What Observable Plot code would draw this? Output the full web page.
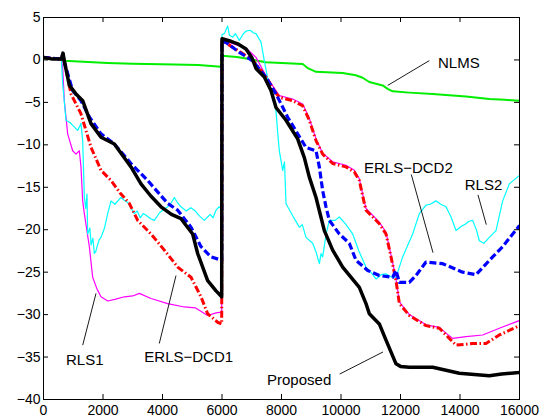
<!DOCTYPE html>
<html><head><meta charset="utf-8">
<script src="https://cdn.jsdelivr.net/npm/d3@7"></script>
<script src="https://cdn.jsdelivr.net/npm/@observablehq/plot@0.6"></script>
<style>
html,body{margin:0;padding:0;background:#fff;}
</style></head><body><div id="chart"></div>
<script>
// ---- data (x: samples, y: dB) ----
const nlmsX = [0, 600, 700, 1500, 2157, 3000, 4398, 5200, 5966, 6000, 6500, 6918, 7200, 7479, 8000, 8711, 8900, 9160, 10056, 10500, 10728, 10952, 11400, 11569, 11737, 12300, 13082, 14202, 14986, 15500, 16000];
const nlmsY = [0.2, 0.1, -0.1, -0.25, -0.35, -0.45, -0.55, -0.6, -0.8, 0.5, 0.35, 0.12, -0.1, -0.28, -0.35, -0.47, -1.0, -1.4, -1.55, -1.8, -2.1, -2.6, -3.0, -3.4, -3.7, -3.85, -4.0, -4.3, -4.6, -4.7, -4.8];

const rls1X = [0, 600, 645, 700, 812, 980, 1092, 1204, 1260, 1317, 1373, 1541, 1653, 1800, 1933, 2157, 2400, 2717, 3000, 3221, 3614, 4174, 4734, 5100, 5518, 5800, 5990, 6000, 6300, 6800, 7143, 7500, 7927, 8375, 8711, 8935, 9160, 9384, 9720, 10168, 10448, 10616, 10784, 10840, 11288, 11513, 11681, 11849, 11961, 12296, 12857, 13305, 13641, 13753, 14202, 14762, 15322, 16000];
const rls1Y = [0.3, 0.1, -0.9, -4.8, -8.7, -10.7, -11.1, -10.7, -12.6, -16.6, -18.1, -22.0, -25.6, -27.0, -27.9, -28.4, -28.2, -27.9, -27.8, -27.5, -28.1, -28.7, -29.1, -29.2, -30.1, -29.8, -29.7, 2.3, 2.0, 1.4, 0.3, -2.0, -4.2, -4.6, -5.2, -6.9, -9.3, -11.0, -12.0, -12.4, -13.0, -14.0, -16.7, -17.5, -19.1, -20.3, -23.0, -25.8, -28.5, -30.0, -31.2, -31.5, -32.5, -32.8, -32.6, -32.4, -31.6, -30.7];

const rls2X = [0, 300, 600, 645, 756, 900, 980, 1148, 1260, 1317, 1373, 1420, 1462, 1485, 1560, 1600, 1660, 1709, 1765, 1800, 1870, 1933, 2050, 2157, 2269, 2400, 2605, 2700, 2829, 2950, 3053, 3150, 3250, 3350, 3450, 3600, 3726, 3900, 4050, 4174, 4300, 4398, 4500, 4622, 4800, 4950, 5070, 5250, 5406, 5600, 5700, 5798, 5900, 5990, 6000, 6079, 6191, 6250, 6359, 6450, 6583, 6700, 6807, 6950, 7050, 7143, 7311, 7423, 7591, 7700, 7815, 7870, 7927, 8039, 8100, 8151, 8208, 8400, 8599, 8700, 8823, 9048, 9150, 9272, 9330, 9384, 9500, 9608, 9800, 9944, 10150, 10392, 10600, 10840, 11000, 11176, 11350, 11513, 11700, 11849, 12073, 12409, 12633, 12857, 13000, 13193, 13350, 13529, 13700, 13866, 14050, 14202, 14300, 14426, 14550, 14650, 14800, 14986, 15210, 15434, 15658, 16000];
const rls2Y = [0.3, 0.2, 0.2, -2.8, -7.1, -7.4, -7.7, -8.3, -7.5, -9.5, -16.2, -17.5, -15.8, -20.5, -19.8, -21.8, -21.0, -22.8, -22.5, -22.0, -21.2, -20.9, -19.8, -18.1, -16.6, -17.0, -16.2, -16.5, -16.8, -17.5, -18.1, -17.8, -18.6, -18.1, -18.3, -18.7, -18.9, -18.0, -17.6, -17.3, -16.8, -16.2, -16.8, -17.3, -17.8, -17.4, -17.7, -18.4, -18.9, -18.2, -18.6, -17.7, -17.3, -17.5, 3.0, 3.1, 4.0, 2.9, 2.7, 3.1, 2.3, 3.0, 3.4, 3.5, 3.2, 3.1, 2.1, -0.1, -3.2, -4.5, -6.0, -8.5, -10.7, -13.0, -12.0, -16.9, -17.3, -18.5, -19.7, -19.4, -20.9, -21.6, -22.5, -24.0, -22.8, -23.2, -20.5, -18.9, -18.9, -18.5, -19.3, -20.5, -22.5, -24.4, -25.0, -25.8, -25.3, -25.2, -25.6, -25.6, -23.2, -20.5, -18.1, -17.1, -17.0, -16.6, -17.0, -17.3, -18.5, -20.1, -19.6, -19.3, -19.0, -18.9, -20.0, -21.3, -21.6, -20.9, -20.1, -16.6, -14.6, -13.6];

const dcd1X = [0, 600, 650, 720, 924, 1260, 1597, 1933, 2269, 2605, 2885, 3166, 3614, 4061, 4510, 4958, 5294, 5518, 5854, 5990, 6000, 6134, 6583, 7031, 7479, 7815, 7927, 8375, 8711, 8935, 9160, 9384, 9720, 10168, 10448, 10616, 10784, 10840, 11288, 11513, 11681, 11849, 11961, 12296, 12857, 13305, 13641, 13866, 14426, 14874, 15322, 16000];
const dcd1Y = [0.3, 0.1, 0.7, -0.5, -4.0, -6.35, -10.3, -13.0, -14.2, -15.8, -16.9, -18.9, -20.5, -22.4, -24.4, -25.6, -27.9, -29.9, -30.9, -31.1, 2.2, 2.0, 1.0, 0.0, -2.0, -3.9, -4.4, -4.8, -5.4, -7.1, -9.5, -11.1, -12.2, -12.6, -13.2, -14.2, -16.9, -17.7, -19.3, -20.5, -23.2, -26.0, -28.7, -30.1, -31.3, -31.6, -32.8, -33.6, -33.4, -33.4, -32.4, -31.3];

const dcd2X = [0, 600, 650, 720, 980, 1260, 1541, 1933, 2381, 2941, 3502, 4174, 4510, 4958, 5294, 5630, 5990, 6000, 6134, 6583, 7031, 7479, 7815, 8208, 8543, 8823, 9160, 9272, 9384, 9496, 9608, 9944, 10280, 10504, 10897, 11288, 11737, 11849, 11961, 12296, 12521, 12857, 13418, 14090, 14538, 15098, 15434, 16000];
const dcd2Y = [0.3, 0.1, 0.7, -0.5, -3.6, -4.8, -6.7, -8.7, -9.9, -12.2, -14.2, -16.9, -17.7, -19.7, -22.0, -23.2, -23.6, 2.2, 2.07, 0.9, -0.1, -2.05, -4.0, -6.75, -8.7, -10.3, -10.7, -12.6, -15.4, -17.3, -18.9, -20.5, -21.6, -23.6, -24.8, -25.4, -25.6, -24.8, -26.2, -26.2, -25.4, -23.8, -24.0, -25.0, -25.3, -23.2, -22.0, -19.5];

const propX = [0, 300, 600, 655, 720, 870, 1092, 1317, 1597, 1933, 2381, 2941, 3277, 3600, 3950, 4300, 4622, 5014, 5182, 5518, 5800, 5990, 6000, 6300, 6527, 6807, 7000, 7143, 7423, 7647, 7815, 8151, 8543, 8767, 8935, 9160, 9440, 9720, 10056, 10616, 10840, 10952, 11288, 11513, 11849, 12000, 12296, 13082, 13977, 14985, 15400, 16000];
const propY = [0.3, 0.1, 0.1, 0.8, -0.5, -3.0, -4.0, -4.8, -7.5, -9.1, -9.9, -12.6, -14.6, -16.0, -17.3, -18.2, -18.7, -20.5, -22.8, -26.0, -27.2, -27.9, 2.5, 2.2, 1.9, 1.3, 0.3, -1.0, -2.0, -3.6, -5.6, -7.1, -9.3, -11.5, -13.8, -16.2, -20.1, -22.4, -24.4, -26.8, -28.7, -29.9, -31.1, -33.0, -35.8, -36.1, -36.2, -36.2, -36.9, -37.2, -37.0, -36.8];

const xTicks = [0, 2000, 4000, 6000, 8000, 10000, 12000, 14000, 16000];
const xTickLabels = ["0", "2000", "4000", "6000", "8000", "10000", "12000", "14000", "16000"];
const yTicks = [5, 0, -5, -10, -15, -20, -25, -30, -35, -40];
const yTickLabels = ["5", "0", "\u22125", "\u221210", "\u221215", "\u221220", "\u221225", "\u221230", "\u221235", "\u221240"];

const labelText = ["NLMS", "ERLS\u2212DCD2", "RLS2", "RLS1", "ERLS\u2212DCD1", "Proposed"];
const labelX = [13261, 10773, 14158, 756, 3388, 7513];
const labelY = [-0.44, -12.7, -14.8, -35.4, -35.0, -37.7];
const leaderX1 = [11570, 12363, 14605, 1318, 3892, 9956];
const leaderY1 = [-3.0, -13.5, -15.9, -33.6, -33.4, -37.0];
const leaderX2 = [12968, 13092, 14884, 1765, 4454, 11412];
const leaderY2 = [-0.08, -22.7, -19.4, -27.5, -25.4, -34.4];

// ---- layout ----
const W = 544, H = 419, mL = 43, mR = 25, mT = 17, mB = 20;
const plotW = W - mL - mR, plotH = H - mT - mB;
const tick = 5;

const series = [
  {name: "NLMS", x: nlmsX, y: nlmsY, stroke: "#00ee00", width: 2, dash: null},
  {name: "RLS1", x: rls1X, y: rls1Y, stroke: "#ff00ff", width: 1.2, dash: null},
  {name: "RLS2", x: rls2X, y: rls2Y, stroke: "#00ffff", width: 1.2, dash: null},
  {name: "ERLS-DCD1", x: dcd1X, y: dcd1Y, stroke: "#ff0000", width: 3, dash: "7,2.5,1.5,2.5"},
  {name: "ERLS-DCD2", x: dcd2X, y: dcd2Y, stroke: "#0000ff", width: 3.2, dash: "7,3"},
  {name: "Proposed", x: propX, y: propY, stroke: "#000000", width: 3.5, dash: null}
];
const rows = series.flatMap(s => s.x.map((x, i) => ({name: s.name, x, y: s.y[i]})));
const labels = labelText.map((t, i) => ({t, x: labelX[i], y: labelY[i]}));
const leaders = labelText.map((t, i) => ({x1: leaderX1[i], y1: leaderY1[i], x2: leaderX2[i], y2: leaderY2[i]}));

const chart = Plot.plot({
  width: W, height: H,
  marginLeft: mL, marginRight: mR, marginTop: mT, marginBottom: mB,
  style: {fontFamily: "'Liberation Sans', Arial, sans-serif", fontSize: "14px", background: "#fff", color: "#000", overflow: "visible"},
  x: {domain: [0, 16000], ticks: xTicks, tickSize: 0, tickPadding: 6, label: null,
      tickFormat: d => xTickLabels[xTicks.indexOf(d)]},
  y: {domain: [-40, 5], ticks: yTicks, tickSize: 0, tickPadding: 3, label: null,
      tickFormat: d => yTickLabels[yTicks.indexOf(d)]},
  marks: [
    ...series.map(s => Plot.line(rows.filter(r => r.name === s.name), {
      x: "x", y: "y", stroke: s.stroke, strokeWidth: s.width,
      strokeDasharray: s.dash, strokeLinejoin: "round",
      strokeLinecap: s.dash ? "butt" : "round", clip: true
    })),
    Plot.link(leaders, {x1: "x1", y1: "y1", x2: "x2", y2: "y2", stroke: "#000", strokeWidth: 0.9}),
    Plot.text(labels, {x: "x", y: "y", text: "t", textAnchor: "start", fontSize: 15, fill: "#000"}),
    Plot.tickX(xTicks, {x: d => d, insetTop: plotH - tick, stroke: "#000"}),
    Plot.tickX(xTicks, {x: d => d, insetBottom: plotH - tick, stroke: "#000"}),
    Plot.tickY(yTicks, {y: d => d, insetRight: plotW - tick, stroke: "#000"}),
    Plot.tickY(yTicks, {y: d => d, insetLeft: plotW - tick, stroke: "#000"}),
    Plot.frame({stroke: "#000", strokeWidth: 1})
  ]
});
document.getElementById("chart").appendChild(chart);
</script>
</body></html>
